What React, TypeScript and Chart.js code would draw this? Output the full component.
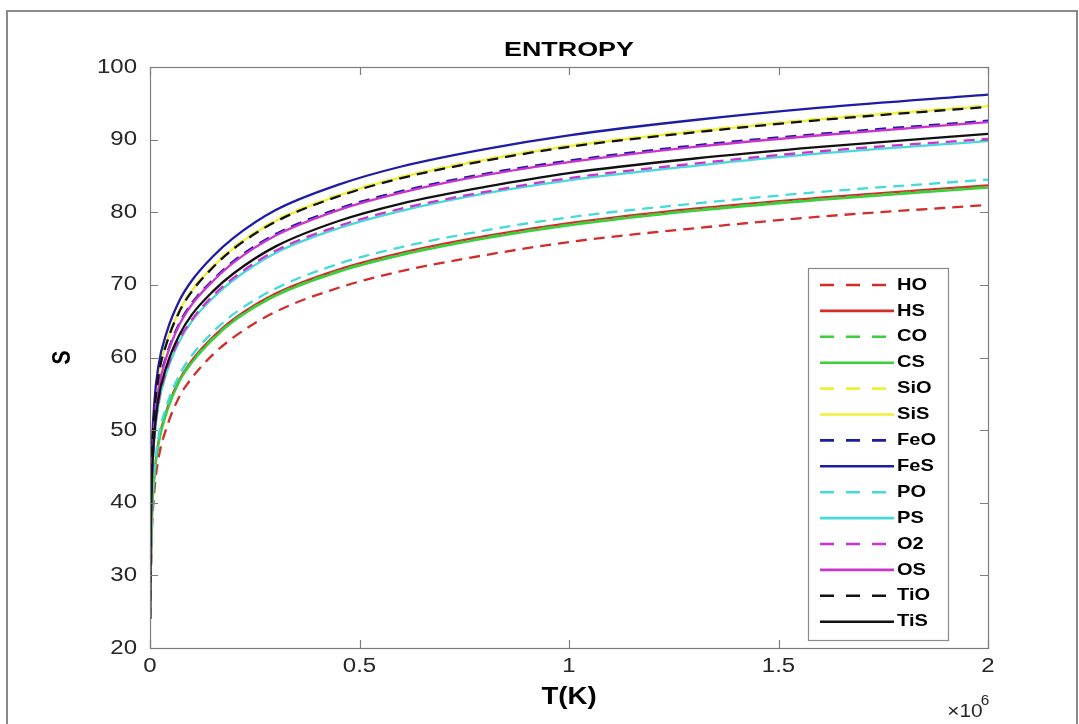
import React, { useEffect, useRef } from "react";
import { Chart, registerables } from "chart.js";

Chart.register(...registerables);

// Temperature (x 10^6 K)
const T_VALUES = [0, 0.001, 0.004, 0.01, 0.02, 0.04, 0.07, 0.1, 0.15, 0.2, 0.3, 0.45, 0.6, 0.8, 1.0, 1.3, 1.6, 2.0];

const HO = [24.0, 26.6, 35.1, 41.3, 46.0, 50.4, 54.6, 57.2, 60.4, 62.8, 66.3, 69.6, 71.9, 74.1, 75.9, 77.8, 79.4, 81.0];
const HS = [24.0, 28.1, 37.0, 43.5, 48.3, 52.8, 56.9, 59.6, 62.8, 65.3, 68.8, 72.1, 74.4, 76.7, 78.5, 80.5, 82.0, 83.7];
const CO = [24.0, 28.0, 36.9, 43.3, 48.1, 52.6, 56.8, 59.4, 62.6, 65.1, 68.6, 71.9, 74.2, 76.5, 78.3, 80.3, 81.8, 83.5];
const CS = [24.0, 27.9, 36.8, 43.3, 48.0, 52.5, 56.7, 59.3, 62.5, 65.0, 68.5, 71.8, 74.1, 76.4, 78.2, 80.2, 81.7, 83.4];
const SiO = [24.0, 34.2, 45.0, 52.3, 57.6, 62.2, 66.5, 69.3, 72.6, 75.2, 78.9, 82.4, 84.9, 87.3, 89.2, 91.2, 92.9, 94.7];
const SiS = [24.0, 34.1, 44.9, 52.2, 57.5, 62.1, 66.4, 69.2, 72.5, 75.1, 78.8, 82.3, 84.8, 87.2, 89.1, 91.1, 92.8, 94.6];
const FeO = [24.0, 33.0, 43.5, 50.7, 55.8, 60.4, 64.7, 67.5, 70.7, 73.3, 77.0, 80.5, 82.9, 85.3, 87.1, 89.2, 90.8, 92.6];
const FeS = [24.0, 35.0, 46.0, 53.5, 58.8, 63.5, 67.8, 70.6, 73.9, 76.5, 80.3, 83.8, 86.3, 88.7, 90.6, 92.7, 94.4, 96.2];
const PO = [24.0, 28.6, 37.6, 44.1, 49.0, 53.4, 57.6, 60.3, 63.5, 66.0, 69.5, 72.9, 75.2, 77.5, 79.3, 81.2, 82.8, 84.5];
const PS = [24.0, 31.5, 41.4, 48.4, 53.4, 58.0, 62.2, 65.0, 68.2, 70.7, 74.4, 77.8, 80.2, 82.6, 84.4, 86.4, 88.1, 89.8];
const O2 = [24.0, 31.6, 41.6, 48.6, 53.7, 58.3, 62.5, 65.2, 68.5, 71.0, 74.7, 78.1, 80.5, 82.8, 84.7, 86.7, 88.4, 90.1];
const OS = [24.0, 32.9, 43.3, 50.5, 55.6, 60.2, 64.5, 67.3, 70.5, 73.1, 76.8, 80.3, 82.7, 85.1, 86.9, 89.0, 90.6, 92.4];
const TiO = [24.0, 34.1, 44.8, 52.1, 57.4, 62.0, 66.3, 69.1, 72.4, 75.0, 78.7, 82.2, 84.7, 87.1, 89.0, 91.0, 92.7, 94.5];
const TiS = [24.0, 32.0, 42.1, 49.2, 54.3, 58.9, 63.1, 65.9, 69.1, 71.6, 75.3, 78.8, 81.2, 83.5, 85.4, 87.4, 89.0, 90.8];

const SERIES_NAMES = ["HO", "HS", "CO", "CS", "SiO", "SiS", "FeO", "FeS", "PO", "PS", "O2", "OS", "TiO", "TiS"];
const SERIES_VALUES = [HO, HS, CO, CS, SiO, SiS, FeO, FeS, PO, PS, O2, OS, TiO, TiS];
const SERIES_COLORS = [
  "#d42b2b", "#d42b2b",
  "#3ccf3c", "#3ccf3c",
  "#f0f03a", "#f0f03a",
  "#1c1ca8", "#1c1ca8",
  "#45dada", "#45dada",
  "#cc33cc", "#cc33cc",
  "#111111", "#111111",
];
const SERIES_DASHED = [true, false, true, false, true, false, true, false, true, false, true, false, true, false];

const X_TICKS = [0, 0.5, 1, 1.5, 2];
const X_TICK_LABELS = ["0", "0.5", "1", "1.5", "2"];
const Y_TICKS = [20, 30, 40, 50, 60, 70, 80, 90, 100];

const TITLE = "ENTROPY";
const X_LABEL = "T(K)";
const Y_LABEL = "S";

const DASH = [11, 7];
const AXIS_COLOR = "#7d7d7d";
const TEXT_COLOR = "#262626";
const FONT = "'Liberation Sans', Arial, Helvetica, sans-serif";

function stretchedText(ctx: CanvasRenderingContext2D, text: string, x: number, y: number, font: string, align: CanvasTextAlign, sx: number, color = TEXT_COLOR) {
  ctx.save();
  ctx.translate(x, y);
  ctx.scale(sx, 1);
  ctx.font = font;
  ctx.fillStyle = color;
  ctx.textAlign = align;
  ctx.textBaseline = "middle";
  ctx.fillText(text, 0, 0);
  ctx.restore();
}

const decorPlugin = {
  id: "matlabDecor",
  afterDatasetsDraw(chart: any) {
    const ctx: CanvasRenderingContext2D = chart.ctx;
    const { left, right, top, bottom } = chart.chartArea;
    const xs = chart.scales.x;
    const ys = chart.scales.y;

    // outer figure frame
    ctx.save();
    ctx.strokeStyle = "#8a8a8a";
    ctx.lineWidth = 2;
    ctx.beginPath();
    ctx.moveTo(7, 740);
    ctx.lineTo(7, 11);
    ctx.lineTo(1077, 11);
    ctx.lineTo(1077, 740);
    ctx.stroke();
    ctx.restore();

    // axes box
    ctx.save();
    ctx.strokeStyle = AXIS_COLOR;
    ctx.lineWidth = 1.2;
    ctx.strokeRect(left + 0.5, top + 0.5, right - left, bottom - top);

    // inward ticks
    const tl = 8;
    ctx.beginPath();
    X_TICKS.forEach((v) => {
      const px = Math.round(xs.getPixelForValue(v)) + 0.5;
      ctx.moveTo(px, bottom);
      ctx.lineTo(px, bottom - tl);
      ctx.moveTo(px, top);
      ctx.lineTo(px, top + tl);
    });
    Y_TICKS.forEach((v) => {
      const py = Math.round(ys.getPixelForValue(v)) + 0.5;
      ctx.moveTo(left, py);
      ctx.lineTo(left + tl, py);
      ctx.moveTo(right, py);
      ctx.lineTo(right - tl, py);
    });
    ctx.stroke();
    ctx.restore();

    // tick labels
    const tickFont = `20px ${FONT}`;
    X_TICKS.forEach((v, i) => {
      stretchedText(ctx, X_TICK_LABELS[i], xs.getPixelForValue(v), bottom + 18, tickFont, "center", 1.2);
    });
    Y_TICKS.forEach((v) => {
      stretchedText(ctx, String(v), left - 13, ys.getPixelForValue(v), tickFont, "right", 1.2);
    });

    // titles
    stretchedText(ctx, TITLE, (left + right) / 2, 50, `bold 21px ${FONT}`, "center", 1.28, "#000");
    stretchedText(ctx, X_LABEL, (left + right) / 2, 698, `bold 23px ${FONT}`, "center", 1.2, "#000");
    ctx.save();
    ctx.translate(63, (top + bottom) / 2);
    ctx.rotate(-Math.PI / 2);
    ctx.scale(1, 1.25);
    ctx.font = `bold 21px ${FONT}`;
    ctx.fillStyle = "#000";
    ctx.textAlign = "center";
    ctx.textBaseline = "middle";
    ctx.fillText(Y_LABEL, 0, 0);
    ctx.restore();

    // exponent label
    stretchedText(ctx, "\u00d710", 965, 712, `19px ${FONT}`, "center", 1.1);
    stretchedText(ctx, "6", 985, 701, `14px ${FONT}`, "center", 1.1);

    // legend
    const lx0 = 808, lx1 = 948, ly0 = 268, ly1 = 640;
    ctx.save();
    ctx.fillStyle = "#ffffff";
    ctx.fillRect(lx0, ly0, lx1 - lx0, ly1 - ly0);
    ctx.strokeStyle = "#8a8a8a";
    ctx.lineWidth = 1.2;
    ctx.strokeRect(lx0 + 0.5, ly0 + 0.5, lx1 - lx0, ly1 - ly0);
    ctx.restore();
    const rowH = 25.9;
    SERIES_NAMES.forEach((name, i) => {
      const y = 285 + i * rowH;
      ctx.save();
      ctx.strokeStyle = SERIES_COLORS[i];
      ctx.lineWidth = 2.6;
      ctx.setLineDash(SERIES_DASHED[i] ? [14, 12] : []);
      ctx.beginPath();
      ctx.moveTo(820, y);
      ctx.lineTo(894, y);
      ctx.stroke();
      ctx.restore();
      stretchedText(ctx, name, 897, y, `bold 17px ${FONT}`, "left", 1.18, "#000");
    });
  },
};

export default function App() {
  const canvasRef = useRef<HTMLCanvasElement | null>(null);

  useEffect(() => {
    document.body.style.margin = "0";
    const canvas = canvasRef.current;
    if (!canvas) return;
    const n = SERIES_NAMES.length;
    const datasets = SERIES_NAMES.map((name, i) => ({
      label: name,
      data: T_VALUES.map((t, k) => ({ x: t, y: SERIES_VALUES[i][k] })),
      borderColor: SERIES_COLORS[i],
      backgroundColor: SERIES_COLORS[i],
      borderWidth: 2.3,
      borderDash: SERIES_DASHED[i] ? DASH : [],
      pointRadius: 0,
      fill: false,
      cubicInterpolationMode: "monotone" as const,
      order: n - i,
    }));

    const chart = new Chart(canvas, {
      type: "line",
      data: { datasets },
      options: {
        animation: false,
        responsive: false,
        maintainAspectRatio: false,
        layout: { padding: { top: 67, right: 91, left: 0, bottom: 0 } },
        plugins: {
          legend: { display: false },
          title: { display: false },
          tooltip: { enabled: false },
        },
        scales: {
          x: {
            type: "linear",
            min: 0,
            max: 2,
            ticks: { display: false, stepSize: 0.5 },
            grid: { display: false },
            border: { display: false },
            afterFit: (scale: any) => {
              scale.height = 76;
            },
          },
          y: {
            type: "linear",
            min: 20,
            max: 100,
            ticks: { display: false, stepSize: 10 },
            grid: { display: false },
            border: { display: false },
            afterFit: (scale: any) => {
              scale.width = 150;
            },
          },
        },
      },
      plugins: [decorPlugin],
    });
    return () => chart.destroy();
  }, []);

  return (
    <div style={{ position: "fixed", left: 0, top: 0, width: 1079, height: 724, background: "#fff" }}>
      <canvas ref={canvasRef} width={1079} height={724} style={{ display: "block" }} />
    </div>
  );
}
